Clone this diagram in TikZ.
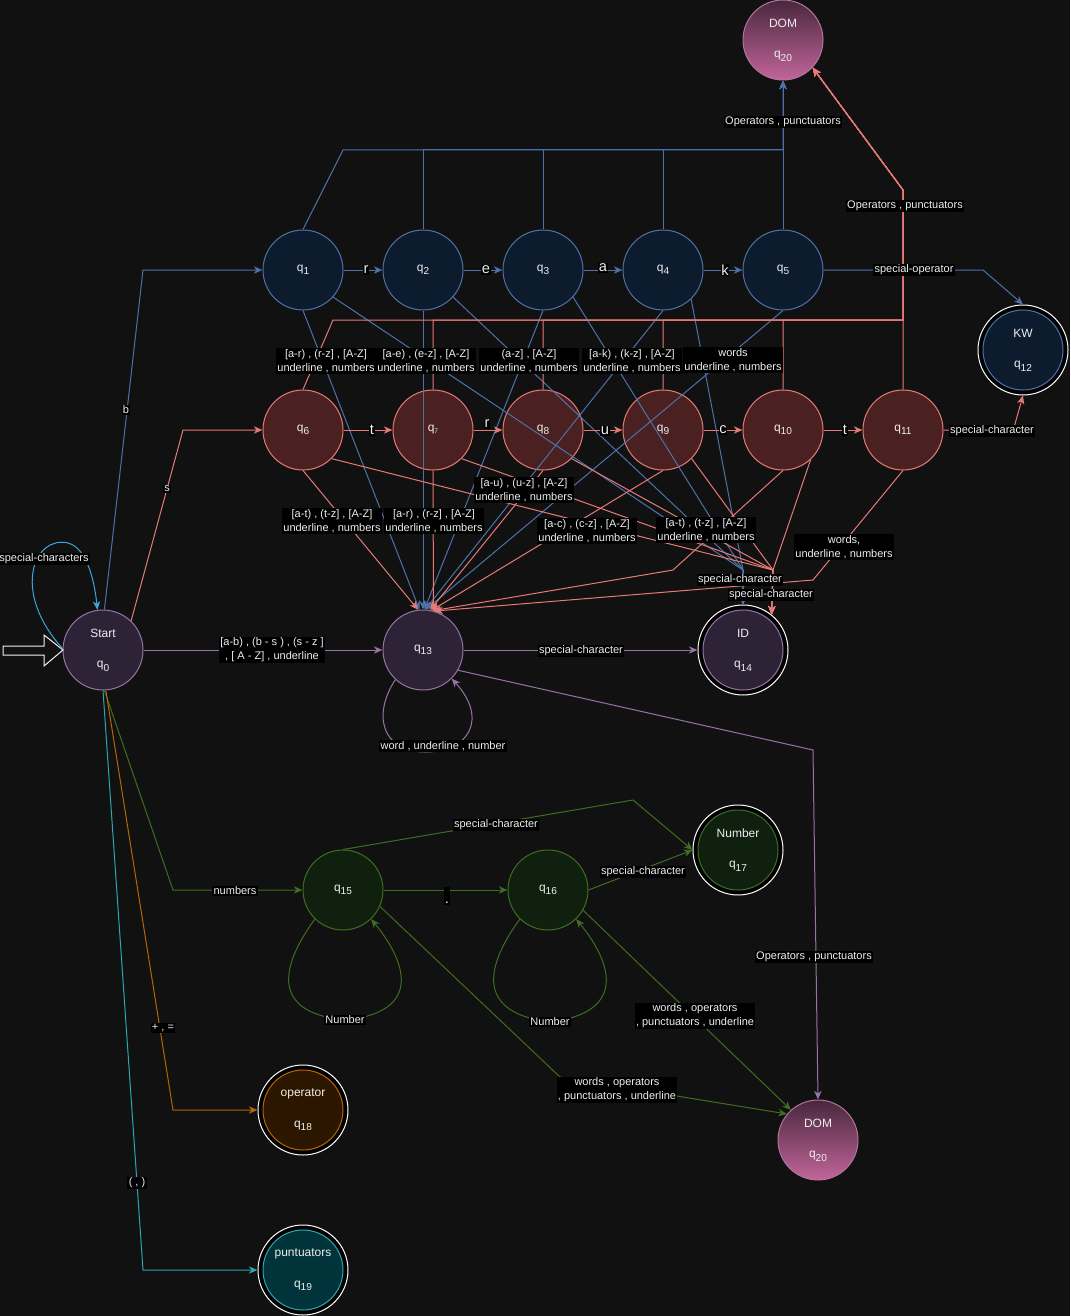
\documentclass[tikz,border=0pt]{standalone}
\usepackage{fontspec}
\setmainfont{Liberation Sans}
\usetikzlibrary{arrows.meta}
\definecolor{bg}{HTML}{111111}
\definecolor{bfill}{HTML}{0C1B2E}
\definecolor{bst}{HTML}{4D72A8}
\definecolor{rfill}{HTML}{4A2020}
\definecolor{rst}{HTML}{E57A76}
\definecolor{pfill}{HTML}{2E2236}
\definecolor{pst}{HTML}{9673A6}
\definecolor{gfill}{HTML}{0F200F}
\definecolor{gst}{HTML}{3E6E20}
\definecolor{ofill}{HTML}{2C1600}
\definecolor{ost}{HTML}{B46504}
\definecolor{cfill}{HTML}{00343A}
\definecolor{cst}{HTML}{2BA6B3}
\definecolor{lcyan}{HTML}{3DA5D9}
\definecolor{domtop}{HTML}{48283D}
\definecolor{dombot}{HTML}{C2659A}
\definecolor{domst}{HTML}{B5739D}
\definecolor{txt}{HTML}{EEEEEE}
\newcommand\qs[1]{q\raisebox{-2.6pt}{\fontsize{7.6}{8}\selectfont #1}}
\begin{document}
\begin{tikzpicture}[x=0.75pt,y=-0.75pt,
  st/.style={circle, minimum size=60pt, inner sep=0pt, line width=0.75pt, text=txt,
    font=\fontsize{9}{11}\selectfont, align=center},
  bnode/.style={st, draw=bst, fill=bfill},
  rnode/.style={st, draw=rst, fill=rfill},
  pnode/.style={st, draw=pst, fill=pfill},
  gnode/.style={st, draw=gst, fill=gfill},
  domnode/.style={st, draw=domst, top color=domtop, bottom color=dombot},
  acc/.style 2 args={circle, minimum size=67.5pt, inner sep=0pt, draw=white, line width=0.75pt,
    fill=black, text=txt, font=\fontsize{9}{11}\selectfont, align=center,
    path picture={\draw[draw=#1, fill=#2, line width=0.75pt] (path picture bounding box.center) circle[radius=30pt];}},
  e/.style={line width=0.75pt, -{Stealth[length=6.5pt,width=5.5pt,inset=2pt]}},
  lbl/.style={fill=black, text=txt, font=\fontsize{8.25}{10.5}\selectfont, inner sep=1pt, align=center},
  ltr/.style={fill=black, text=txt, font=\fontsize{11}{12}\selectfont, inner sep=0.6pt}
]
\fill[bg] (0,0) rectangle (1070,1316);
\useasboundingbox (0,0) rectangle (1070,1316);

% ---------- nodes ----------
\node[bnode] (q1) at (303,270) {\qs{1}};
\node[bnode] (q2) at (423,270) {\qs{2}};
\node[bnode] (q3) at (543,270) {\qs{3}};
\node[bnode] (q4) at (663,270) {\qs{4}};
\node[bnode] (q5) at (783,270) {\qs{5}};
\node[rnode] (q6) at (303,430) {\qs{6}};
\node[rnode] (q7) at (433,430) {q\raisebox{-1.5pt}{\fontsize{5}{5}\selectfont 7}};
\node[rnode] (q8) at (543,430) {\qs{8}};
\node[rnode] (q9) at (663,430) {\qs{9}};
\node[rnode] (q10) at (783,430) {\qs{10}};
\node[rnode] (q11) at (903,430) {\qs{11}};
\node[pnode] (q0) at (103,650) {Start\\[12pt]\qs{0}};
\node[pnode] (q13) at (423,650) {\qs{13}};
\node[acc={pst}{pfill}] (q14) at (743,650) {ID\\[12pt]\qs{14}};
\node[acc={bst}{bfill}] (q12) at (1023,350) {KW\\[12pt]\qs{12}};
\node[domnode] (q20a) at (783,40) {DOM\\[12pt]\qs{20}};
\node[domnode] (q20b) at (818,1140) {DOM\\[12pt]\qs{20}};
\node[gnode] (q15) at (343,890) {\qs{15}};
\node[gnode] (q16) at (548,890) {\qs{16}};
\node[acc={gst}{gfill}] (q17) at (738,850) {Number\\[12pt]\qs{17}};
\node[acc={ost}{ofill}] (q18) at (303,1110) {operator\\[12pt]\qs{18}};
\node[acc={cst}{cfill}] (q19) at (303,1270) {puntuators\\[12pt]\qs{19}};

% initial arrow
\draw[line width=0.75pt, draw=white!88!gray, fill=bg] (3,646) -- (44,646) -- (44,635) -- (63,650) -- (44,666) -- (44,655) -- (3,655) -- cycle;

% ---------- blue edges ----------
\draw[e, bst] (q0.88) -- (143,270) -- (q1.west);
\draw[e, bst] (q1.east) -- (q2.west);
\draw[e, bst] (q2.east) -- (q3.west);
\draw[e, bst] (q3.east) -- (q4.west);
\draw[e, bst] (q4.east) -- (q5.west);
\draw[e, bst] (q1.north) -- (343,150) -- (783,150) -- (q20a.south);
\draw[e, bst] (q2.north) -- (423,150) -- (783,150) -- (q20a.south);
\draw[e, bst] (q3.north) -- (543,150) -- (783,150) -- (q20a.south);
\draw[e, bst] (q4.north) -- (663,150) -- (783,150) -- (q20a.south);
\draw[e, bst] (q5.north) -- (q20a.south);
\draw[e, bst] (q5.east) -- (983,270) -- (q12.north);
\draw[e, bst] (q1.south) -- (q13.95);
\draw[e, bst] (q2.south) -- (q13.north);
\draw[e, bst] (q3.south) -- (q13.88);
\draw[e, bst] (q4.south) -- (q13.87);
\draw[e, bst] (q5.south) -- (q13.86);
\draw[e, bst] (q1.-42) -- (743,570) -- (q14.north);
\draw[e, bst] (q2.-42) -- (743,570) -- (q14.north);
\draw[e, bst] (q3.-42) -- (743,570) -- (q14.north);
\draw[e, bst] (q4.-46) -- (743,570) -- (q14.north);

% ---------- red edges ----------
\draw[e, rst] (q0.46) -- (183,430) -- (q6.west);
\draw[e, rst] (q6.east) -- (q7.west);
\draw[e, rst] (q7.east) -- (q8.west);
\draw[e, rst] (q8.east) -- (q9.west);
\draw[e, rst] (q9.east) -- (q10.west);
\draw[e, rst] (q10.east) -- (q11.west);
\draw[e, rst] (q6.north) -- (333,320) -- (903,320) -- (903,190) -- (q20a.-43);
\draw[e, rst] (q7.north) -- (433,320) -- (903,320) -- (903,190) -- (q20a.-43);
\draw[e, rst] (q8.north) -- (543,320) -- (903,320) -- (903,190) -- (q20a.-43);
\draw[e, rst] (q9.north) -- (663,320) -- (903,320) -- (903,190) -- (q20a.-43);
\draw[e, rst] (q10.north) -- (783,320) -- (903,320) -- (903,190) -- (q20a.-43);
\draw[e, rst] (q11.north) -- (903,190) -- (q20a.-43);
\draw[e, rst] (q11.east) -- (1013,431) -- (q12.south);
\draw[e, rst] (q6.south) -- (q13.97);
\draw[e, rst] (q7.south) -- (q13.75.5);
\draw[e, rst] (q8.south) -- (q13.80);
\draw[e, rst] (q9.south) -- (q13.78);
\draw[e, rst] (q10.south) -- (673,570) -- (q13.76);
\draw[e, rst] (q11.south) -- (813,580) -- (q13.74);
\draw[e, rst] (q6.-45) -- (773,570) -- (q14.51);
\draw[e, rst] (q7.-45) -- (773,570) -- (q14.51);
\draw[e, rst] (q8.-45) -- (773,570) -- (q14.51);
\draw[e, rst] (q9.-45) -- (773,570) -- (q14.51);
\draw[e, rst] (q10.-47) -- (773,570) -- (q14.51);

% ---------- purple edges ----------
\draw[e, pst] (q0.east) -- (q13.west);
\draw[e, pst] (q13.east) -- (q14.west);
\draw[e, pst] (q13.-133) .. controls (372,715) and (382,752) .. (425,752) .. controls (470,752) and (488,718) .. (q13.-45);
\draw[e, pst] (q13.-30) -- (813,750) -- (q20b.north);

% ---------- cyan loop on start ----------
\draw[e, lcyan] (q0.178) .. controls (10,590) and (35,535) .. (68,543) .. controls (88,548) and (95,585) .. (q0.98);

% ---------- green edges ----------
\draw[e, gst] (q0.-88) -- (173,890) -- (q15.west);
\draw[e, gst] (q15.east) -- (q16.west);
\draw[e, gst] (q15.north) -- (633,800) -- (q17.west);
\draw[e, gst] (q16.east) -- (q17.west);
\draw[e, gst] (q15.-134) .. controls (285,960) and (265,1012) .. (345,1020) .. controls (425,1012) and (405,960) .. (q15.-46);
\draw[e, gst] (q16.-134) .. controls (490,960) and (470,1012) .. (550,1022) .. controls (630,1012) and (610,960) .. (q16.-46);
\draw[e, gst] (q16.-30) -- (q20b.132);
\draw[e, gst] (q15.-24) -- (560,1077) -- (q20b.140);

% ---------- orange / cyan ----------
\draw[e, ost] (q0.-86) -- (173,1110) -- (q18.west);
\draw[e, cst] (q0.-90) -- (143,1270) -- (q19.west);

% ---------- labels ----------
\node[ltr] (lr1) at (366,270) {r};
\node[ltr] (le1) at (486,270) {e};
\node[ltr] (la1) at (603,268) {a};
\node[ltr] (lk1) at (725,270) {k};
\node[ltr] (lt1) at (372,430) {t};
\node[ltr] (lr2) at (487,424) {r};
\node[ltr] (lu1) at (605,431) {u};
\node[ltr] (lc1) at (723,430) {c};
\node[ltr] (lt2) at (845,430) {t};
\node[ltr, text height=12pt, text depth=1pt] (ldot) at (447,896) {.};

\node[lbl] (l01) at (126,410) {b};
\node[lbl] (l02) at (167,489) {s};
\node[lbl] (l03) at (44,559) {special-characters};
\node[lbl] (l04) at (272,650) {[a-b) , (b - s ) , (s - z ]\\ , [ A - Z] , underline};
\node[lbl] (l05) at (235,891) {numbers};
\node[lbl] (l06) at (163,1028) {+ , =};
\node[lbl] (l07) at (137,1183) {( , )};

\node[lbl] (l11) at (326,361) {[a-r) , (r-z] , [A-Z]\\underline , numbers};
\node[lbl] (l12) at (426,361) {[a-e) , (e-z] , [A-Z]\\underline , numbers};
\node[lbl] (l13) at (529,361) {(a-z] , [A-Z]\\underline , numbers};
\node[lbl] (l14) at (632,361) {[a-k) , (k-z] , [A-Z]\\underline , numbers};
\node[lbl] (l15) at (733,360) {words\\underline , numbers};

\node[lbl] (l21) at (332,521) {[a-t) , (t-z] , [A-Z]\\underline , numbers};
\node[lbl] (l22) at (434,521) {[a-r) , (r-z] , [A-Z]\\underline , numbers};
\node[lbl] (l23) at (524,490) {[a-u) , (u-z] , [A-Z]\\underline , numbers};
\node[lbl] (l24) at (587,531) {[a-c) , (c-z] , [A-Z]\\underline , numbers};
\node[lbl] (l25) at (706,530) {[a-t) , (t-z] , [A-Z]\\underline , numbers};
\node[lbl] (l26) at (844,547) {words,\\underline , numbers};

\node[lbl] (l31) at (740,580) {special-character};
\node[lbl] (l32) at (771,595) {special-character};
\node[lbl] (l33) at (783,122) {Operators , punctuators};
\node[lbl] (l34) at (905,206) {Operators , punctuators};
\node[lbl] (l35) at (914,270) {special-operator};
\node[lbl] (l36) at (992,431) {special-character};

\node[lbl] (l41) at (581,651) {special-character};
\node[lbl] (l42) at (443,746) {word , underline , number};
\node[lbl] (l43) at (814,957) {Operators , punctuators};

\node[lbl] (l51) at (496,825) {special-character};
\node[lbl] (l52) at (643,872) {special-character};
\node[lbl] (l53) at (345,1020) {Number};
\node[lbl] (l54) at (550,1022) {Number};
\node[lbl] (l55) at (695,1016) {words , operators\\, punctuators , underline};
\node[lbl] (l56) at (617,1090) {words , operators\\, punctuators , underline};
\end{tikzpicture}
\end{document}
